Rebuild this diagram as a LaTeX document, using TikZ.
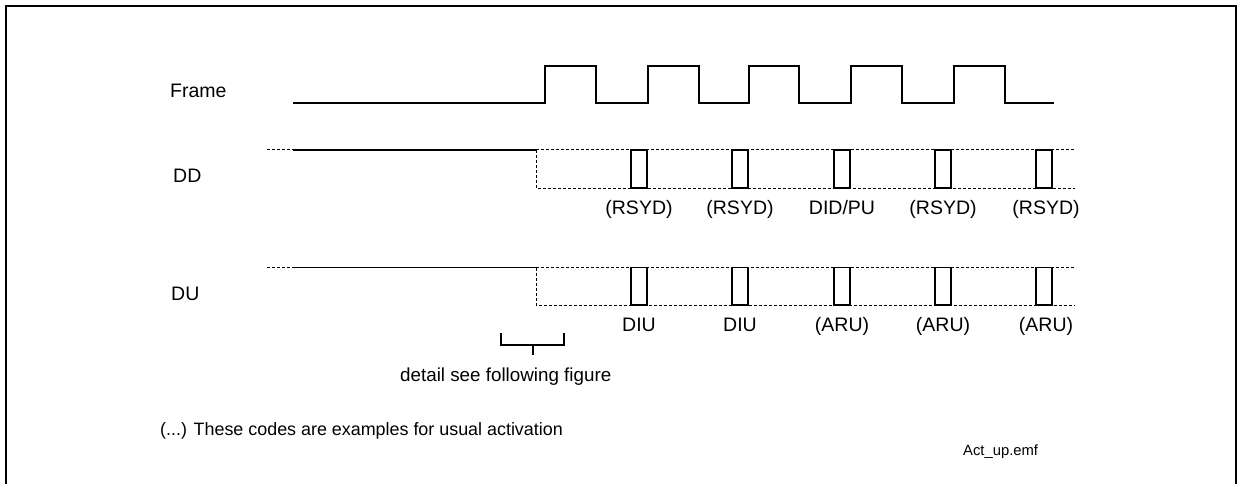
\documentclass[tikz,border=0pt]{standalone}
\usepackage{fontspec}
\setmainfont{Liberation Sans}
\begin{document}
\begin{tikzpicture}[x=1pt,y=-1pt,
  lbl/.style={font=\fontsize{19.5}{22}\selectfont, inner sep=0pt},
  detailtxt/.style={font=\fontsize{18.8}{22}\selectfont, inner sep=0pt},
  note/.style={font=\fontsize{17.9}{21}\selectfont, inner sep=0pt},
  small/.style={font=\fontsize{14.8}{17}\selectfont, inner sep=0pt},
  sig/.style={line width=1.3pt},
  dsh/.style={line width=1pt, dash pattern=on 3pt off 2pt},
  pulse/.style={line width=1.3pt},
  border/.style={line width=2pt}]
\useasboundingbox (0,0) rectangle (1242,484);
\draw[border] (5.7,484) -- (5.7,5.7) -- (1235.5,5.7) -- (1235.5,484);

% labels of rows
\node[lbl, anchor=base west] (tframe) at (170,97.7) {Frame};
\node[lbl, anchor=base west] (tdd) at (173,182.7) {DD};
\node[lbl, anchor=base west] (tdu) at (171,300.7) {DU};

% Frame signal
\draw[sig] (293,103) -- (545,103) -- (545,66) -- (596,66) -- (596,103)
  -- (648,103) -- (648,66) -- (699,66) -- (699,103)
  -- (749,103) -- (749,66) -- (799,66) -- (799,103)
  -- (851,103) -- (851,66) -- (902,66) -- (902,103)
  -- (954,103) -- (954,66) -- (1005,66) -- (1005,103) -- (1054,103);

% DD row
\draw[dsh] (267,150) -- (293,150);
\draw[sig] (293,150) -- (536,150);
\draw[dsh] (536,150) -- (1075,150);
\draw[dsh] (536,150) -- (536,188) -- (1075,188);
\foreach \c in {639,740,842,943,1044}
  \draw[pulse] (\c-8,150) rectangle (\c+8,188);
\node[lbl, anchor=base] (dd1) at (639,214) {(RSYD)};
\node[lbl, anchor=base] (dd2) at (740,214) {(RSYD)};
\node[lbl, anchor=base] (dd3) at (842,214) {DID/PU};
\node[lbl, anchor=base] (dd4) at (943,214) {(RSYD)};
\node[lbl, anchor=base] (dd5) at (1046,214) {(RSYD)};

% DU row
\draw[dsh] (267,267.5) -- (293,267.5);
\draw[sig] (293,267.5) -- (536,267.5);
\draw[dsh] (536,267.5) -- (1075,267.5);
\draw[dsh] (536,267.5) -- (536,305) -- (1075,305);
\foreach \c in {639,740,842,943,1044}
  \draw[pulse] (\c-8,267.5) rectangle (\c+8,305);
\node[lbl, anchor=base] (du1) at (639,331.5) {DIU};
\node[lbl, anchor=base] (du2) at (740,331.5) {DIU};
\node[lbl, anchor=base] (du3) at (842,331.5) {(ARU)};
\node[lbl, anchor=base] (du4) at (943,331.5) {(ARU)};
\node[lbl, anchor=base] (du5) at (1046,331.5) {(ARU)};

% bracket
\draw[sig] (501,333) -- (501,345) -- (564,345) -- (564,333);
\draw[sig] (533,345) -- (533,355);
\node[detailtxt, anchor=base west] (detail) at (400,381.7) {detail see following figure};

\node[note, anchor=base west] (notes) at (160,435) {(...) These codes are examples for usual activation};
\node[small, anchor=base west] (file) at (963,455) {Act\_up.emf};
\end{tikzpicture}
\end{document}
